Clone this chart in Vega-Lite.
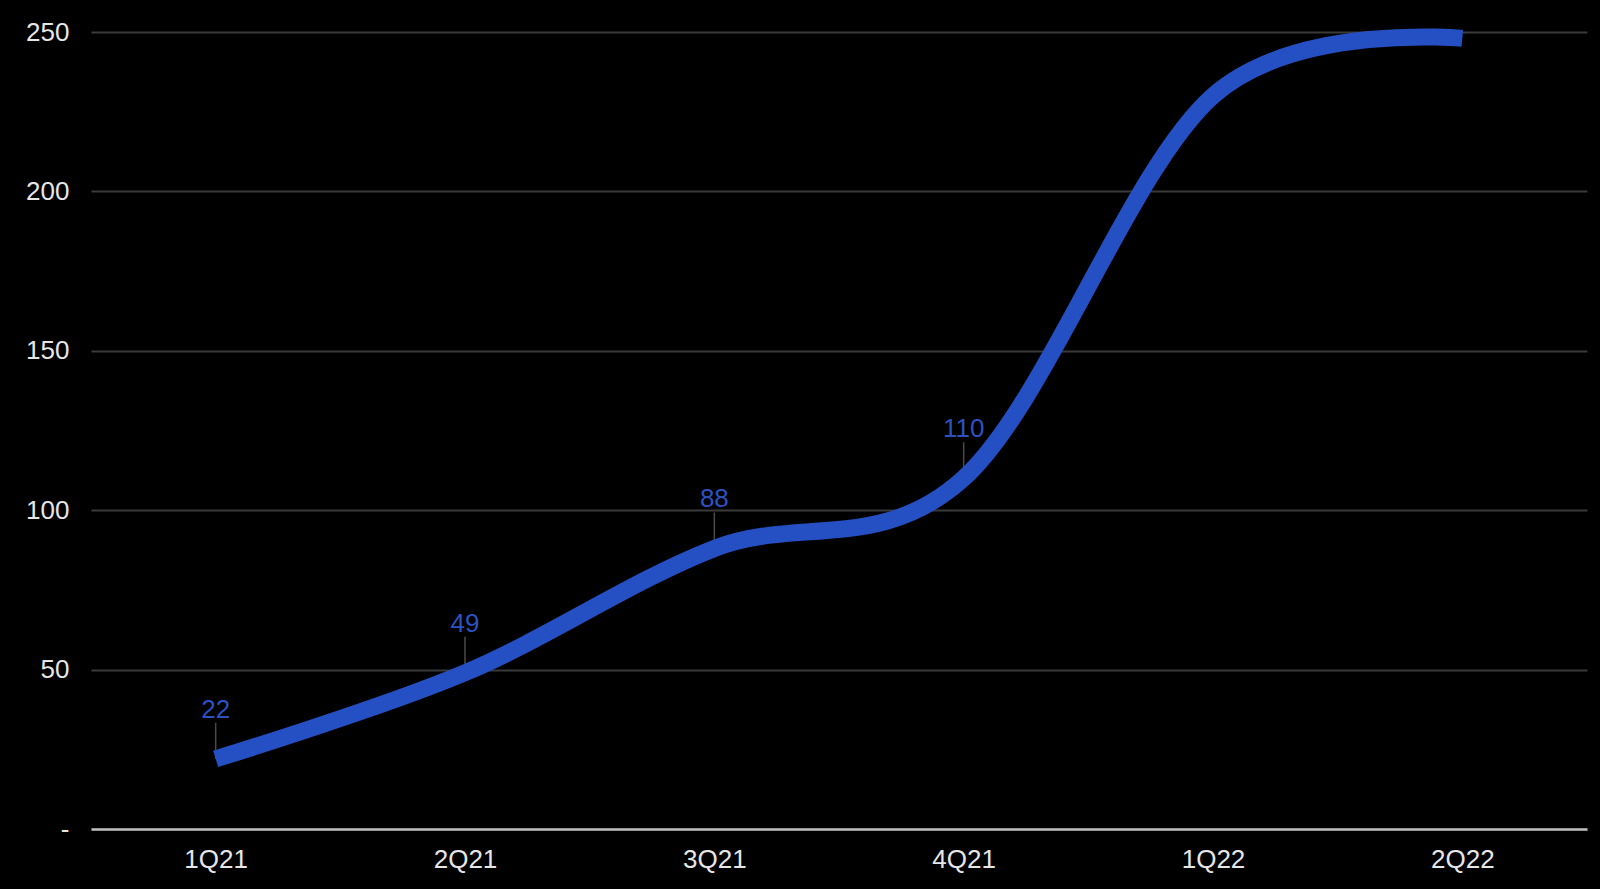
{
  "$schema": "https://vega.github.io/schema/vega-lite/v6.json",
  "description": "Quarterly growth line, 1Q21 to 2Q22, dark theme",
  "width": 1496,
  "height": 797,
  "autosize": {"type": "none"},
  "padding": {"left": 91, "top": 32, "right": 13, "bottom": 60},
  "background": "#000000",
  "config": {
    "view": {"stroke": null},
    "font": "Liberation Sans",
    "axis": {
      "labelFont": "Liberation Sans",
      "labelFontSize": 26,
      "labelColor": "#e6e6e6",
      "ticks": false,
      "title": null
    }
  },
  "data": {
    "values": [
      {"quarter": "1Q21", "value": 22},
      {"quarter": "2Q21", "value": 49},
      {"quarter": "3Q21", "value": 88},
      {"quarter": "4Q21", "value": 110},
      {"quarter": "1Q22", "value": 230},
      {"quarter": "2Q22", "value": 248}
    ]
  },
  "encoding": {
    "x": {
      "field": "quarter",
      "type": "ordinal",
      "sort": null,
      "scale": {"type": "point", "padding": 0.5},
      "axis": {
        "labelAngle": 0,
        "labelPadding": 17,
        "domain": true,
        "domainColor": "#bdbdbd",
        "domainWidth": 2.5,
        "grid": false
      }
    },
    "y": {
      "field": "value",
      "type": "quantitative",
      "scale": {"domain": [0, 250], "nice": false},
      "axis": {
        "values": [0, 50, 100, 150, 200, 250],
        "labelExpr": "datum.value == 0 ? '-    ' : datum.label",
        "labelPadding": 22,
        "domain": false,
        "grid": true,
        "gridColor": "#3a3a3a",
        "gridWidth": 2
      }
    }
  },
  "layer": [
    {
      "transform": [{"filter": {"field": "quarter", "oneOf": ["1Q21", "2Q21", "3Q21", "4Q21"]}}],
      "mark": {"type": "rule", "color": "#4a4a4a", "strokeWidth": 1.5, "y2Offset": -36},
      "encoding": {
        "y2": {"field": "value"}
      }
    },
    {
      "mark": {"type": "line", "interpolate": "cardinal", "color": "#2450c4", "strokeWidth": 17, "strokeCap": "butt"},
      "encoding": {}
    },
    {
      "transform": [{"filter": {"field": "quarter", "oneOf": ["1Q21", "2Q21", "3Q21", "4Q21"]}}],
      "mark": {"type": "text", "baseline": "alphabetic", "dy": -41, "fontSize": 26, "color": "#2c52c2"},
      "encoding": {
        "text": {"field": "value", "type": "quantitative"}
      }
    }
  ]
}
